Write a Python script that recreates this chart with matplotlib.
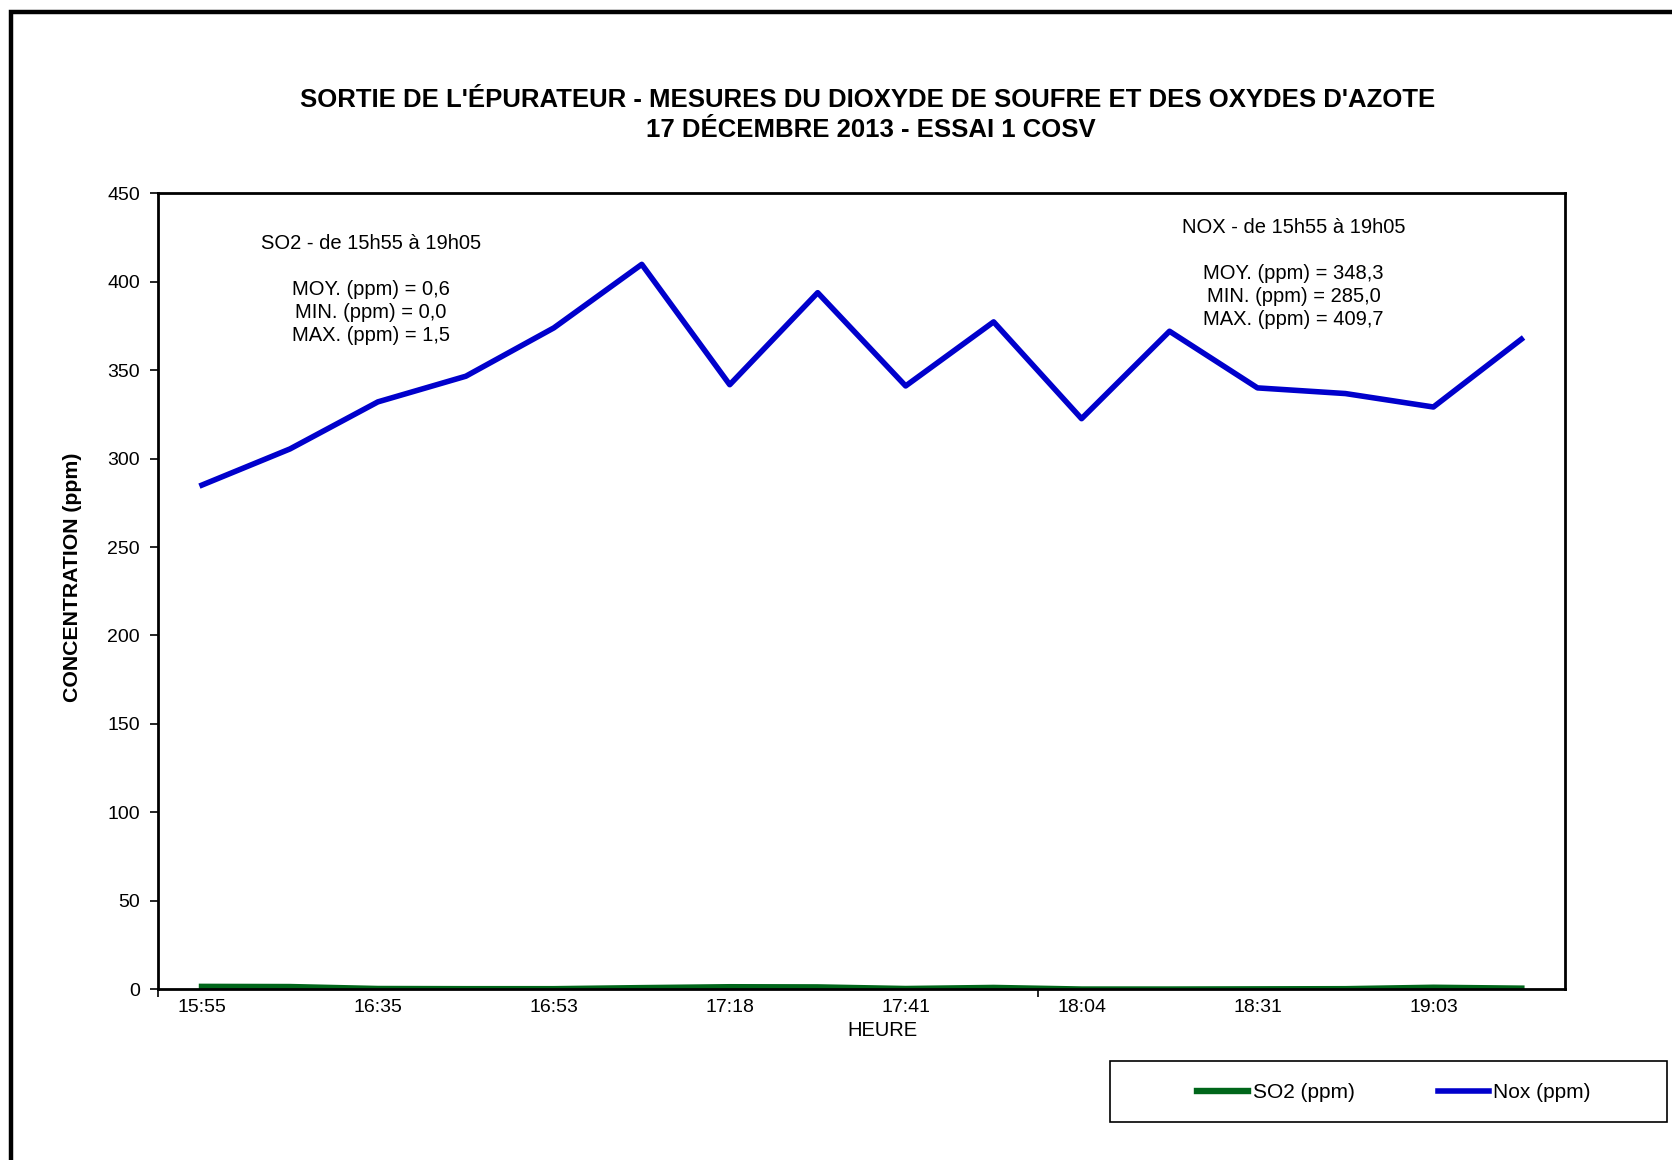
import numpy as np
import matplotlib.pyplot as plt
from matplotlib.patches import Rectangle

plt.rcParams['font.family'] = ['Liberation Sans', 'DejaVu Sans']

# Heures affichées (une étiquette sur deux mesures)
heures = ["15:55", "16:35", "16:53", "17:18", "17:41", "18:04", "18:31", "19:03"]

# Concentrations mesurées (ppm), 16 mesures
so2 = [1.5, 1.4, 0.3, 0.2, 0.2, 0.8, 1.3, 1.2, 0.3, 0.9, 0.0, 0.0, 0.1, 0.2, 1.0, 0.5]
nox = [285.0, 305.4, 332.0, 346.5, 373.8, 409.7, 341.7, 393.7,
       341.0, 377.2, 322.5, 371.9, 339.9, 336.7, 329.1, 367.4]

x = np.arange(len(nox))


def fmt(v):
    return f"{v:.1f}".replace(".", ",")


fig = plt.figure(figsize=(16.72, 11.6), dpi=100)
ax = fig.add_axes([0.0945, 0.147, 0.8417, 0.6866])

l_so2, = ax.plot(x, so2, color="#00661a", linewidth=4.6, label="SO2 (ppm)")
l_nox, = ax.plot(x, nox, color="#0000cc", linewidth=4.0, label="Nox (ppm)")

ax.set_xlim(-0.5, len(nox) - 0.5)
ax.set_ylim(0, 450)
ax.set_yticks(np.arange(0, 451, 50))

# graduations de l'axe des catégories tous les 10 points, étiquettes tous les 2
ax.set_xticks([-0.5, 9.5])
ax.set_xticklabels([])
ax.set_xticks(x[::2], minor=True)
ax.set_xticklabels(heures, minor=True)
ax.tick_params(axis="x", which="major", length=6, width=1.2, direction="out")
ax.tick_params(axis="x", which="minor", length=0, pad=7, labelsize=14)
ax.tick_params(axis="y", length=6, width=1.2, direction="out", pad=7, labelsize=14)

for s in ax.spines.values():
    s.set_linewidth(2.0)
    s.set_color("black")

ax.set_ylabel("CONCENTRATION (ppm)", fontsize=15.3, fontweight="bold", va="center")
ax.yaxis.set_label_coords(-0.061, 0.517)
ax.set_xlabel("HEURE", fontsize=14.5, va="center")
ax.xaxis.set_label_coords(0.515, -0.052)

fig.text(0.519, 0.9137, "SORTIE DE L'ÉPURATEUR - MESURES DU DIOXYDE DE SOUFRE ET DES OXYDES D'AZOTE",
         ha="center", va="center", fontsize=18.5, fontweight="bold")
fig.text(0.521, 0.888, "17 DÉCEMBRE 2013 - ESSAI 1 COSV",
         ha="center", va="center", fontsize=18.5, fontweight="bold")

txt_so2 = ("SO2 - de 15h55 à 19h05\n\n"
           f"MOY. (ppm) = {fmt(np.mean(so2))}\n"
           f"MIN. (ppm) = {fmt(min(so2))}\n"
           f"MAX. (ppm) = {fmt(max(so2))}")
txt_nox = ("NOX - de 15h55 à 19h05\n\n"
           f"MOY. (ppm) = {fmt(np.mean(nox))}\n"
           f"MIN. (ppm) = {fmt(min(nox))}\n"
           f"MAX. (ppm) = {fmt(max(nox))}")
ax.text(0.1513, 0.879, txt_so2, transform=ax.transAxes, ha="center", va="center",
        multialignment="center", fontsize=14.5, linespacing=1.27)
ax.text(0.807, 0.899, txt_nox, transform=ax.transAxes, ha="center", va="center",
        multialignment="center", fontsize=14.5, linespacing=1.27)

# cadre de la légende
fig.add_artist(Rectangle((1110 / 1672, 1 - 1122 / 1160), 557 / 1672, 61 / 1160,
                         transform=fig.transFigure, fill=False, edgecolor="black", linewidth=1.2))
fig.legend(handles=[l_so2, l_nox], loc="center", bbox_to_anchor=(1394 / 1672, 1 - 1093 / 1160),
           ncol=2, frameon=False, fontsize=15, handlelength=2.46, handletextpad=0.2,
           columnspacing=4.0)

# cadre du graphique
fig.add_artist(Rectangle((11 / 1672, -0.1), 1.2, 1.0897, transform=fig.transFigure,
                         fill=False, edgecolor="black", linewidth=3.2))

fig.savefig("out.png", dpi=100)
